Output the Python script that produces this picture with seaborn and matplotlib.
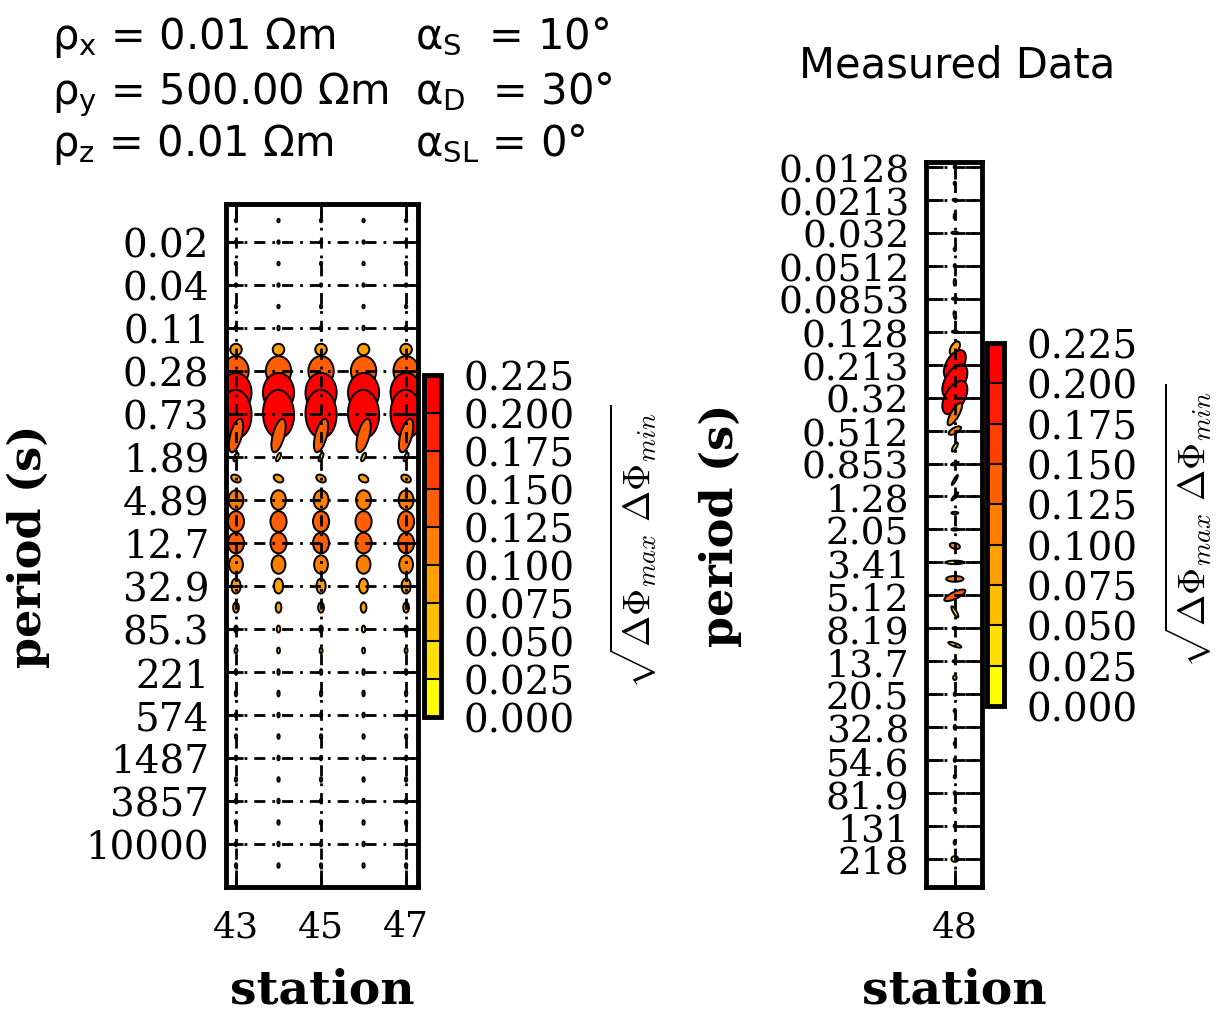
import numpy as np
import matplotlib
matplotlib.use("Agg")
import matplotlib.pyplot as plt
from matplotlib.collections import EllipseCollection
from matplotlib.colors import ListedColormap, BoundaryNorm
from matplotlib.cm import ScalarMappable
import seaborn as sns

# ---- model response (stations 43-47, same response at every station) ----
model_stations = [43, 44, 45, 46, 47]
model_periods = [0.0102, 0.0164, 0.0264, 0.0424, 0.0684, 0.110, 0.177, 0.284, 0.457, 0.733,
                 1.18, 1.89, 3.04, 4.89, 7.88, 12.7, 20.4, 32.9, 53.0, 85.3,
                 137, 221, 356, 574, 924, 1487, 2395, 3857, 6210, 10000, 16100]
model_phimax = [3, 3, 3, 3, 3, 4, 10, 26, 34, 42, 30, 8, 9, 17, 18, 18, 16, 13, 9, 6,
                5, 5, 5, 4, 4, 4, 4, 4, 4, 4, 4]
model_phimin = [2, 2, 2, 2, 2, 2, 10, 22, 27, 27, 10, 3, 6, 13, 14, 14, 12, 8, 5, 3,
                2.5, 2, 2, 2, 2, 2, 2, 2, 2, 2, 2]
model_angle = [90, 90, 90, 90, 90, 90, 90, 90, 90, 92, 75, 65, 150, 90, 90, 90, 90, 90, 90, 90,
               90, 90, 90, 90, 90, 90, 90, 90, 90, 90, 90]
model_misfit = [0.01, 0.01, 0.01, 0.01, 0.01, 0.01, 0.085, 0.135, 0.215, 0.21, 0.135, 0.04,
                0.085, 0.12, 0.135, 0.135, 0.115, 0.09, 0.08, 0.04,
                0.02, 0.02, 0.02, 0.02, 0.02, 0.02, 0.02, 0.02, 0.02, 0.02, 0.02]
model_tick_labels = ["0.02", "0.04", "0.11", "0.28", "0.73", "1.89", "4.89", "12.7", "32.9",
                     "85.3", "221", "574", "1487", "3857", "10000"]

# ---- measured data (station 48) ----
data_stations = [48]
data_periods = [0.0128, 0.016, 0.0213, 0.0256, 0.032, 0.04, 0.0512, 0.064, 0.0853, 0.1067,
                0.128, 0.16, 0.213, 0.256, 0.32, 0.4, 0.512, 0.64, 0.853, 1.067,
                1.28, 1.6, 2.05, 2.56, 3.41, 4.1, 5.12, 6.4, 8.19, 10.24,
                13.7, 16.4, 20.5, 25.6, 32.8, 41, 54.6, 65.5, 81.9, 102.4,
                131, 164, 218]
data_phimax = [3, 3, 4, 5, 6, 3, 3, 6, 5, 7, 5, 13, 28, 32, 32, 22, 12, 9, 7, 10,
               9, 6, 6, 9, 16, 15, 20, 11, 4, 12, 4, 4, 3, 3, 4, 3, 3, 3, 3, 3,
               3, 4, 6]
data_phimin = [2, 2, 2, 2, 2, 2, 2, 2, 2, 2, 2, 7, 15, 17, 17, 7, 5, 3, 2, 2,
               2, 2, 2, 5, 3, 5, 6, 3, 2, 3, 2, 3, 2, 2, 2, 2, 2, 2, 2, 2,
               2, 2, 5]
data_angle = [90, 90, 0, 90, 0, 90, 90, 90, 0, 100, 0, 60, 60, 60, 60, 60, 30, 60, 20, 60,
              50, 0, 0, 165, 0, 0, 25, 120, 0, 160, 0, 90, 90, 90, 90, 90, 90, 90, 90, 90,
              90, 90, 0]
data_misfit = [0.01, 0.01, 0.01, 0.01, 0.01, 0.01, 0.01, 0.01, 0.01, 0.01, 0.01,
               0.09, 0.2, 0.21, 0.2, 0.12, 0.1, 0.03, 0.02, 0.02, 0.02, 0.02, 0.02,
               0.12, 0.04, 0.12, 0.14, 0.03, 0.02, 0.03, 0.02, 0.06,
               0.02, 0.02, 0.02, 0.02, 0.02, 0.02, 0.02, 0.02, 0.02, 0.02, 0.02]
data_tick_labels = ["0.0128", "0.0213", "0.032", "0.0512", "0.0853", "0.128", "0.213", "0.32",
                    "0.512", "0.853", "1.28", "2.05", "3.41", "5.12", "8.19", "13.7", "20.5",
                    "32.8", "54.6", "81.9", "131", "218"]

cbar_ticks = [0.0, 0.025, 0.05, 0.075, 0.1, 0.125, 0.15, 0.175, 0.2, 0.225]

sns.set_style("white")
plt.rcParams["font.family"] = ["DejaVu Serif"]
plt.rcParams.update({"text.color": "black", "axes.labelcolor": "black",
                     "xtick.color": "black", "ytick.color": "black"})

cmap = ListedColormap(sns.blend_palette(["#ffff00", "#ff0000"], n_colors=9))
norm = BoundaryNorm(cbar_ticks, cmap.N)
ELL_SCALE = 0.83  # points per unit of phase

fig = plt.figure(figsize=(12.28, 10.12), dpi=100)


def pt_panel(ax, stations, periods, phimax, phimin, angle, misfit, ticklabels, tick_first,
             ysize):
    idx = np.arange(len(periods))
    ns = len(stations)
    offsets = np.column_stack([np.repeat(stations, len(idx)), np.tile(idx, ns)])
    ec = EllipseCollection(np.tile(phimax, ns) * ELL_SCALE, np.tile(phimin, ns) * ELL_SCALE,
                           np.tile(angle, ns), units="points", offsets=offsets,
                           offset_transform=ax.transData, cmap=cmap, norm=norm,
                           edgecolors="k", linewidths=1.4, zorder=1)
    ec.set_array(np.tile(misfit, ns))
    ax.add_collection(ec)
    ax.set_yticks(idx[tick_first::2])
    ax.set_yticklabels(ticklabels)
    ax.set_axisbelow(False)
    ax.grid(True, color="k", linestyle=(0, (4, 2.5, 1, 2.5)), linewidth=2)
    ax.tick_params(axis="both", direction="in", length=12, width=2, colors="k",
                   left=True, right=True, top=True, bottom=True)
    ax.tick_params(axis="y", labelsize=ysize, pad=12)
    ax.tick_params(axis="x", labelsize=26, pad=16)
    for s in ax.spines.values():
        s.set_visible(True)
        s.set_color("k")
        s.set_linewidth(3.5)
    ax.set_xlabel("station", fontsize=34, fontweight="bold")
    ax.set_ylabel("period (s)", fontsize=32, fontweight="bold")
    return ec


def add_cbar(cax, pad, lpad):
    cb = fig.colorbar(ScalarMappable(norm=norm, cmap=cmap), cax=cax, ticks=cbar_ticks,
                      drawedges=True)
    cb.outline.set_linewidth(3.5)
    cb.outline.set_edgecolor("k")
    cb.dividers.set_color("k")
    cb.dividers.set_linewidth(1.5)
    cax.set_yticklabels([f"{t:.3f}" for t in cbar_ticks])
    cax.tick_params(length=0, labelsize=28, pad=pad)
    cb.set_label(r"$\sqrt{\Delta\Phi_{max}\ \Delta\Phi_{min}}$", fontsize=27,
                 labelpad=lpad, math_fontfamily="cm")
    return cb


# left panel: model
ax1 = fig.add_axes([226 / 1228, 1 - 888 / 1012, 192 / 1228, 683 / 1012])
pt_panel(ax1, model_stations, model_periods, model_phimax, model_phimin, model_angle,
         model_misfit, model_tick_labels, 1, 28)
ax1.set_xticks([43, 45, 47])
ax1.set_xlim(42.765, 47.28)
ax1.set_ylim(31.0, -0.77)
ax1.xaxis.set_label_coords(0.5, -0.117)
ax1.yaxis.set_label_coords(-0.917, 0.5)

cax1 = fig.add_axes([424 / 1228, 1 - 718 / 1012, 17 / 1228, 342 / 1012])
add_cbar(cax1, 16, 24)

# right panel: measured data
ax2 = fig.add_axes([926 / 1228, 1 - 888 / 1012, 56 / 1228, 725 / 1012])
pt_panel(ax2, data_stations, data_periods, data_phimax, data_phimin, data_angle,
         data_misfit, data_tick_labels, 0, 27)
ax2.set_xticks([48])
ax2.set_xlim(47.32, 48.64)
ax2.set_ylim(43.7, -0.3)
ax2.xaxis.set_label_coords(0.5, -0.110)
ax2.yaxis.set_label_coords(-3.29, 0.5)

cax2 = fig.add_axes([987 / 1228, 1 - 707 / 1012, 17 / 1228, 363 / 1012])
add_cbar(cax2, 16, 18)

# header with model parameters
hdr = dict(fontsize=30, family="DejaVu Sans", math_fontfamily="dejavusans",
           ha="left", va="baseline")
rows = [49, 104, 156]
left_col = [r"ρ$_\mathrm{x}$ = 0.01 Ωm", r"ρ$_\mathrm{y}$ = 500.00 Ωm",
            r"ρ$_\mathrm{z}$ = 0.01 Ωm"]
right_col = [r"α$_\mathrm{S}$  = 10°", r"α$_\mathrm{D}$  = 30°", r"α$_\mathrm{SL}$ = 0°"]
for r, a, b in zip(rows, left_col, right_col):
    fig.text(52 / 1228, 1 - r / 1012, a, **hdr)
    fig.text(415 / 1228, 1 - r / 1012, b, **hdr)

fig.text(957 / 1228, 1 - 77 / 1012, "Measured Data", fontsize=30, family="DejaVu Sans",
         ha="center", va="baseline")

fig.savefig("out.png", dpi=100, facecolor="white")
